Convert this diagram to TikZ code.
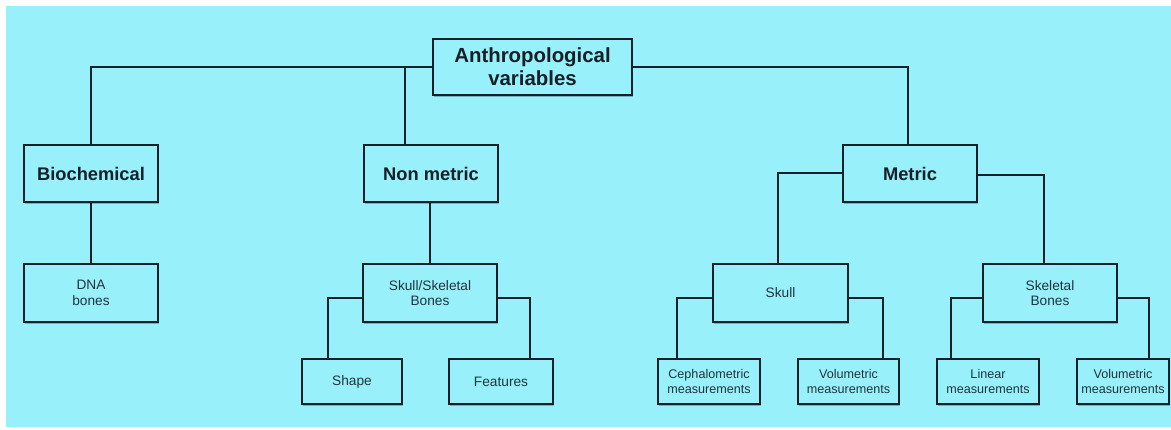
\documentclass[tikz,border=0pt]{standalone}
\usepackage{fontspec}
\setmainfont{Liberation Sans}
\usetikzlibrary{shadows}
\definecolor{bgcyan}{RGB}{152,240,251}
\definecolor{ink}{RGB}{22,32,40}
\definecolor{txt}{RGB}{32,52,62}
\tikzset{
  box/.style={draw=ink, line width=2.6pt, fill=bgcyan, align=center, inner sep=0pt,
    drop shadow={shadow xshift=1.2pt, shadow yshift=-1.6pt, opacity=0.25, fill=black}},
  big/.style={box, minimum height=57pt, font=\fontsize{18.3}{21.5}\selectfont\bfseries, text=ink},
  mid/.style={box, minimum height=58pt, font=\fontsize{13.7}{15.5}\selectfont, text=txt},
  low/.style={box, minimum height=45pt, font=\fontsize{13.7}{15.5}\selectfont, text=txt},
  lowm/.style={box, minimum height=45pt, font=\fontsize{12.6}{14.3}\selectfont, text=txt},
  link/.style={draw=ink, line width=2.2pt}
}
\begin{document}
\begin{tikzpicture}[x=1pt,y=-1pt]
\useasboundingbox (0,0) rectangle (1171,430);
\fill[white] (0,0) rectangle (1171,430);
\fill[bgcyan] (6,6) rectangle (1171,427);

% nodes
\node[big, minimum width=199pt, minimum height=56pt, font=\fontsize{20.4}{23}\selectfont\bfseries] (top) at (532.5,67) {Anthropological\\variables};
\node[big, minimum width=134pt] (bio) at (91,173.5) {Biochemical};
\node[big, minimum width=134pt] (nonm) at (431,173.5) {Non metric};
\node[big, minimum width=134pt] (metric) at (910,173.5) {Metric};

\node[mid, minimum width=134pt] (dna) at (91,293) {DNA\\bones};
\node[mid, minimum width=134pt] (ssb) at (430,293) {Skull/Skeletal\\Bones};
\node[mid, minimum width=135pt] (skull) at (780.5,293) {Skull};
\node[mid, minimum width=134pt] (skb) at (1050,293) {Skeletal\\Bones};

\node[low, minimum width=100pt] (shape) at (352,381.5) {Shape};
\node[low, minimum width=104pt] (feat) at (501,381.5) {Features};
\node[lowm, minimum width=102pt] (ceph) at (709,381.5) {Cephalometric\\measurements};
\node[lowm, minimum width=101pt] (vol1) at (848.5,381.5) {Volumetric\\measurements};
\node[lowm, minimum width=102pt] (lin) at (988,381.5) {Linear\\measurements};
\node[lowm, minimum width=92pt] (vol2) at (1123,381.5) {Volumetric\\measurements};

% connectors
\coordinate (j1) at (405,67);
\draw[link] (top.west) -| (bio.north);
\draw[link] (j1) -- (j1 |- nonm.north);
\draw[link] (top.east) -| ([xshift=-2pt]metric.north);
\draw[link] (bio.south) -- (dna.north);
\draw[link] ([xshift=-1pt]nonm.south) -- (ssb.north);
\draw[link] ([yshift=0.5pt]metric.west) -| ([xshift=-2.5pt]skull.north);
\draw[link] ([yshift=-1.5pt]metric.east) -| ([xshift=-6pt]skb.north);
\draw[link] ([yshift=-5pt]ssb.west) -| ([xshift=-24pt]shape.north);
\draw[link] ([yshift=-5pt]ssb.east) -| ([xshift=29pt]feat.north);
\draw[link] ([yshift=-5pt]skull.west) -| ([xshift=-32pt]ceph.north);
\draw[link] ([yshift=-5pt]skull.east) -| ([xshift=34.5pt]vol1.north);
\draw[link] ([yshift=-5pt]skb.west) -| ([xshift=-37pt]lin.north);
\draw[link] ([yshift=-5pt]skb.east) -| ([xshift=26pt]vol2.north);
\end{tikzpicture}
\end{document}
